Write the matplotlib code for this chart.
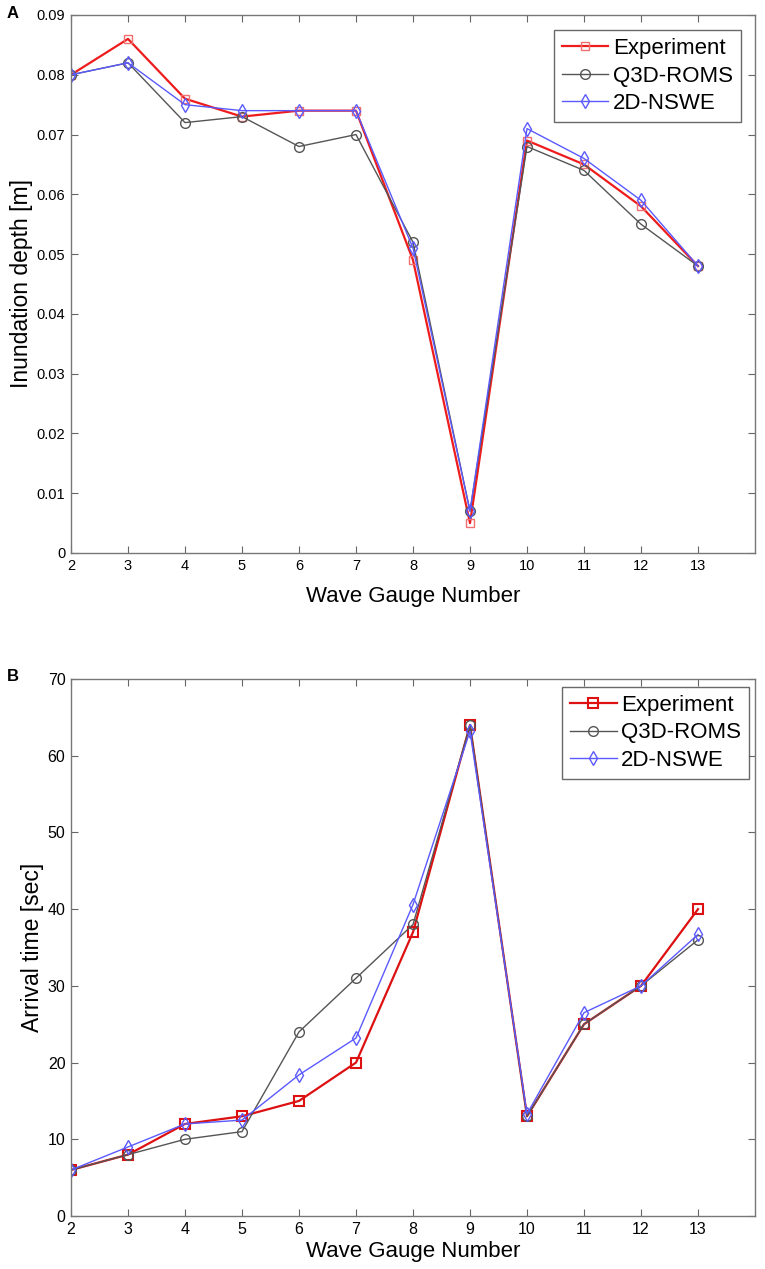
import matplotlib
matplotlib.use("Agg")
import matplotlib.pyplot as plt

plt.rcParams['font.family'] = ['Liberation Sans', 'DejaVu Sans']

# gauge numbers
gauges = [2, 3, 4, 5, 6, 7, 8, 9, 10, 11, 12, 13]

# panel A: inundation depth [m]
depth_exp = [0.080, 0.086, 0.076, 0.073, 0.074, 0.074, 0.049, 0.005, 0.069, 0.065, 0.058, 0.048]
depth_q3d = [0.080, 0.082, 0.072, 0.073, 0.068, 0.070, 0.052, 0.007, 0.068, 0.064, 0.055, 0.048]
depth_nswe = [0.080, 0.082, 0.075, 0.074, 0.074, 0.074, 0.051, 0.007, 0.071, 0.066, 0.059, 0.048]

# panel B: arrival time [sec]
time_exp = [6, 8, 12, 13, 15, 20, 37, 64, 13, 25, 30, 40]
time_q3d = [6, 8, 10, 11, 24, 31, 38, 64, 13, 25, 30, 36]
time_nswe = [6, 9, 12, 12.5, 18.4, 23.2, 40.6, 63.2, 13.3, 26.5, 30, 36.7]

depth_ticks = [0, 0.01, 0.02, 0.03, 0.04, 0.05, 0.06, 0.07, 0.08, 0.09]
depth_labels = ["0", "0.01", "0.02", "0.03", "0.04", "0.05", "0.06", "0.07", "0.08", "0.09"]
time_ticks = [0, 10, 20, 30, 40, 50, 60, 70]

W, H = 765, 1269
fig = plt.figure(figsize=(W / 100, H / 100), dpi=100)
# axes boxes from pixel positions
ax1 = fig.add_axes([71 / W, (H - 553) / H, 684 / W, 538 / H])
ax2 = fig.add_axes([71 / W, (H - 1216) / H, 684 / W, 537 / H])

red = "#ee1c1c"
gray = "#555555"
blue = "#5a5aff"


def style(ax, tick_size, legend_anchor, ylabel_x, xlabel_y):
    ax.set_xlim(2, 14)
    ax.set_xticks(gauges)
    ax.tick_params(direction="in", top=True, right=True, length=5,
                   color="#666666", labelsize=tick_size, pad=4)
    for s in ax.spines.values():
        s.set_color("#777777")
        s.set_linewidth(1.0)
    ax.set_xlabel("Wave Gauge Number", fontsize=16)
    ax.xaxis.set_label_coords(0.5, xlabel_y)
    ax.yaxis.set_label_coords(ylabel_x, 0.5)
    leg = ax.legend(loc="upper right", bbox_to_anchor=legend_anchor,
                    fontsize=16, fancybox=False, handlelength=2.1,
                    borderaxespad=0.0, labelspacing=0.3,
                    handletextpad=0.2, borderpad=0.35)
    leg.get_frame().set_edgecolor("#444444")
    leg.get_frame().set_linewidth(1.0)


# panel A
ax1.plot(gauges, depth_exp, color=red, lw=1.6, marker="s", ms=6, mfc="none",
         mec="#f07070", label="Experiment")
ax1.plot(gauges, depth_q3d, color=gray, lw=1.0, marker="o", ms=7, mfc="none",
         label="Q3D-ROMS")
ax1.plot(gauges, depth_nswe, color=blue, lw=1.0, marker="d", ms=7, mfc="none",
         label="2D-NSWE")
ax1.set_ylim(0, 0.09)
ax1.set_yticks(depth_ticks)
ax1.set_yticklabels(depth_labels)
ax1.set_ylabel("Inundation depth [m]", fontsize=16.5, va="center")
style(ax1, 10.5, (0.979, 0.972), -0.072, -0.062)

# panel B
ax2.plot(gauges, time_exp, color="#dd1111", lw=1.6, marker="s", ms=7, mfc="none",
         mew=1.5, label="Experiment")
ax2.plot(gauges, time_q3d, color=gray, lw=1.0, marker="o", ms=7, mfc="none",
         label="Q3D-ROMS")
ax2.plot(gauges, time_nswe, color=blue, lw=1.0, marker="d", ms=7, mfc="none",
         label="2D-NSWE")
ax2.set_ylim(0, 70)
ax2.set_yticks(time_ticks)
ax2.set_ylabel("Arrival time [sec]", fontsize=16.5, va="center")
style(ax2, 11.5, (0.991, 0.985), -0.056, -0.046)

fig.text(7 / W, 1 - 6 / H, "A", fontsize=12, fontweight="bold", va="top")
fig.text(7 / W, 1 - 669 / H, "B", fontsize=12, fontweight="bold", va="top")

fig.savefig("out.png", dpi=100)
